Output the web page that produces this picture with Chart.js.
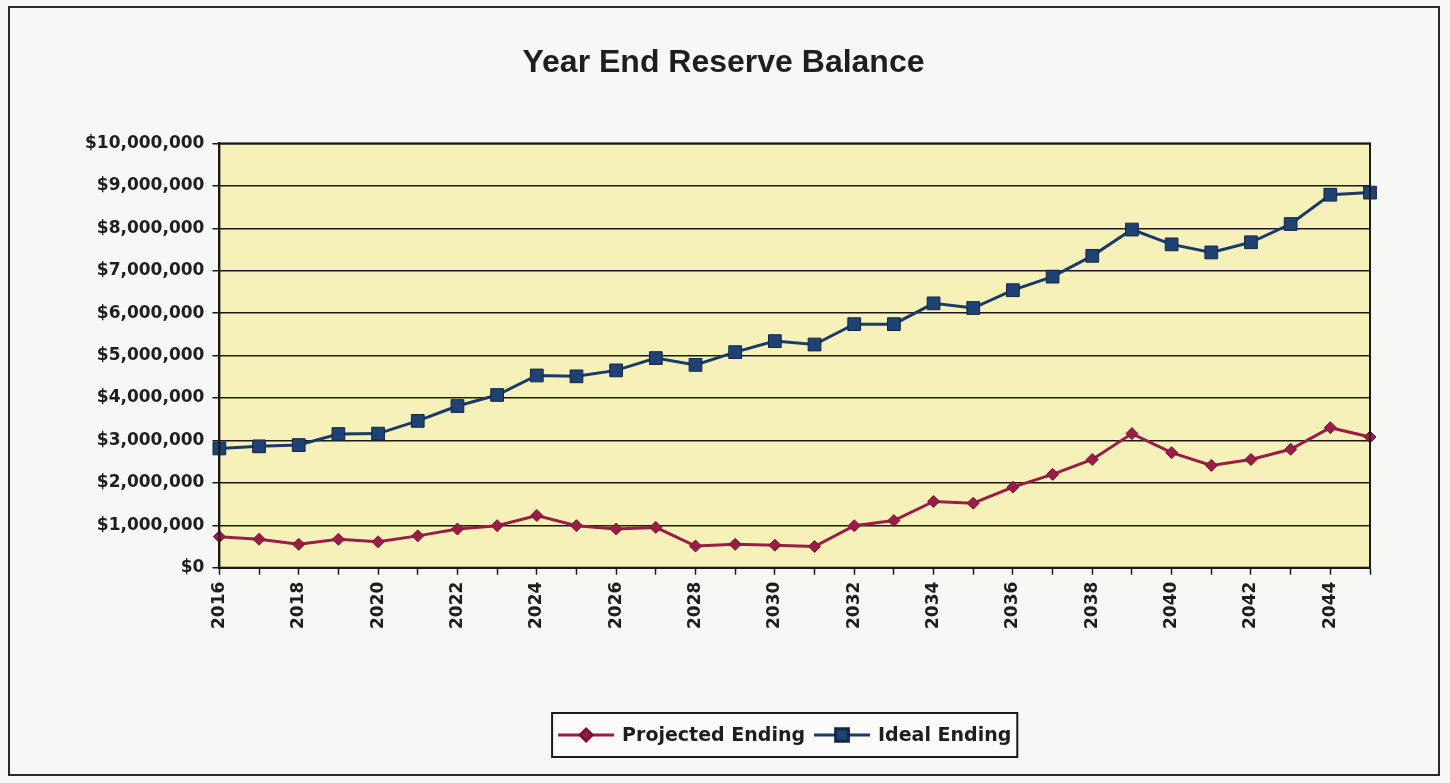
<!DOCTYPE html>
<html>
<head>
<meta charset="utf-8">
<script src="https://cdn.jsdelivr.net/npm/chart.js@4/dist/chart.umd.min.js"></script>
<style>
  html, body { margin: 0; padding: 0; background: #f4f4f2; }
  #wrap { width: 1450px; height: 783px; }
</style>
</head>
<body>
<div id="wrap"><canvas id="myChart" width="1450" height="783"></canvas></div>
<script>
// data
const years = ["2016", "2017", "2018", "2019", "2020", "2021", "2022", "2023", "2024", "2025",
  "2026", "2027", "2028", "2029", "2030", "2031", "2032", "2033", "2034", "2035",
  "2036", "2037", "2038", "2039", "2040", "2041", "2042", "2043", "2044", "2045"]

const projectedEnding = [730000, 670000, 550000, 670000, 610000, 750000, 910000, 990000, 1230000, 990000,
  910000, 950000, 510000, 550000, 530000, 500000, 990000, 1110000, 1560000, 1520000,
  1900000, 2200000, 2550000, 3160000, 2710000, 2410000, 2550000, 2790000, 3300000, 3080000]

const idealEnding = [2810000, 2860000, 2890000, 3150000, 3160000, 3460000, 3810000, 4070000, 4530000, 4510000,
  4650000, 4940000, 4780000, 5080000, 5340000, 5260000, 5740000, 5740000, 6230000, 6120000,
  6540000, 6860000, 7350000, 7970000, 7620000, 7430000, 7670000, 8100000, 8790000, 8840000]

const seriesNames = ["Projected Ending", "Ideal Ending"]

const RED = "#9a1d47"
const BLUE = "#1c3a68"

// sfondo, cornice, area gialla
const framePlugin = {
  id: "frame",
  beforeDraw(chart) {
    const ctx = chart.ctx
    const a = chart.chartArea
    ctx.save()
    ctx.fillStyle = "#f7f7f5"
    ctx.fillRect(0, 0, chart.width, chart.height)
    ctx.strokeStyle = "#2a2a2a"
    ctx.lineWidth = 2
    ctx.strokeRect(9, 7, chart.width - 20, chart.height - 15)
    ctx.fillStyle = "#f6f0b9"
    ctx.fillRect(a.left, a.top, a.right - a.left, a.bottom - a.top)
    ctx.restore()
  },
  afterDatasetsDraw(chart) {
    const ctx = chart.ctx
    const a = chart.chartArea
    ctx.save()
    ctx.strokeStyle = "#1a1a1a"
    ctx.lineWidth = 2
    ctx.strokeRect(a.left, a.top, a.right - a.left, a.bottom - a.top)
    ctx.restore()
  },
}

// legenda con riquadro, centrata sull'area del grafico
const boxLegend = {
  id: "boxLegend",
  afterDraw(chart) {
    const ctx = chart.ctx
    const a = chart.chartArea
    const font = "bold 19px 'DejaVu Sans'"
    ctx.save()
    ctx.font = font
    const lineLen = 56
    const gap = 8
    const itemGap = 9
    const items = chart.data.datasets.map((ds) => ({
      ds,
      w: lineLen + gap + ctx.measureText(ds.label).width,
    }))
    const total = items.reduce((s, it) => s + it.w, 0) + itemGap * (items.length - 1)
    const padX = 6
    const boxW = total + padX * 2
    const boxH = 44
    const cx = (a.left + a.right) / 2 - 10
    const cy = chart.height - 48
    const x0 = cx - boxW / 2
    ctx.fillStyle = "#fbfbfa"
    ctx.fillRect(x0, cy - boxH / 2, boxW, boxH)
    ctx.strokeStyle = "#1a1a1a"
    ctx.lineWidth = 2
    ctx.strokeRect(x0, cy - boxH / 2, boxW, boxH)
    let x = x0 + padX
    items.forEach((it) => {
      const ds = it.ds
      ctx.strokeStyle = ds.borderColor
      ctx.lineWidth = 3
      ctx.beginPath()
      ctx.moveTo(x, cy)
      ctx.lineTo(x + lineLen, cy)
      ctx.stroke()
      ctx.fillStyle = ds.pointBackgroundColor
      ctx.strokeStyle = ds.pointBorderColor
      Chart.helpers.drawPoint(ctx, {
        pointStyle: ds.pointStyle,
        radius: ds.pointRadius,
        rotation: 0,
        borderWidth: 1,
      }, x + lineLen / 2, cy)
      ctx.fillStyle = "#1e1e1e"
      ctx.font = font
      ctx.textBaseline = "middle"
      ctx.textAlign = "left"
      ctx.fillText(ds.label, x + lineLen + gap, cy + 1)
      x += it.w + itemGap
    })
    ctx.restore()
  },
}

const ctx = document.getElementById("myChart")

new Chart(ctx, {
  type: "line",
  data: {
    labels: years,
    datasets: [
      {
        label: seriesNames[0],
        data: projectedEnding,
        borderColor: RED,
        backgroundColor: RED,
        borderWidth: 3,
        pointStyle: "rectRot",
        pointRadius: 6,
        pointBackgroundColor: RED,
        pointBorderColor: "#7a1236",
        pointBorderWidth: 1,
        tension: 0,
      },
      {
        label: seriesNames[1],
        data: idealEnding,
        borderColor: BLUE,
        backgroundColor: BLUE,
        borderWidth: 3,
        pointStyle: "rect",
        pointRadius: 9,
        pointBackgroundColor: "#1f4272",
        pointBorderColor: "#10264a",
        pointBorderWidth: 1,
        tension: 0,
      },
    ],
  },
  options: {
    responsive: false,
    animation: false,
    layout: {
      padding: { left: 77, right: 80, top: 0, bottom: 147 },
    },
    plugins: {
      legend: { display: false },
      tooltip: { enabled: false },
      title: {
        display: true,
        text: "Year End Reserve Balance",
        color: "#1e1e1e",
        font: { family: "'Liberation Sans', Arial", size: 32, weight: "bold" },
        padding: { top: 44, bottom: 61 },
      },
    },
    scales: {
      x: {
        offset: false,
        grid: {
          display: true,
          drawOnChartArea: false,
          drawTicks: true,
          tickLength: 7,
          tickColor: "#1a1a1a",
          tickWidth: 1.5,
        },
        border: { display: true, color: "#1a1a1a", width: 2 },
        ticks: {
          autoSkip: false,
          maxRotation: 90,
          minRotation: 90,
          padding: 7,
          color: "#1e1e1e",
          font: { family: "'DejaVu Sans'", size: 17, weight: "bold" },
          callback: function (val, i) {
            return i % 2 === 0 ? this.getLabelForValue(val) : ""
          },
        },
      },
      y: {
        min: 0,
        max: 10000000,
        grid: {
          color: "#1a1a1a",
          lineWidth: 1.5,
          drawTicks: true,
          tickLength: 7,
          tickColor: "#1a1a1a",
        },
        border: { display: true, color: "#1a1a1a", width: 2 },
        ticks: {
          stepSize: 1000000,
          padding: 8,
          color: "#1e1e1e",
          font: { family: "'DejaVu Sans'", size: 17, weight: "bold" },
          callback: (v) => "$" + v.toLocaleString("en-US"),
        },
      },
    },
  },
  plugins: [framePlugin, boxLegend],
})
</script>
</body>
</html>
